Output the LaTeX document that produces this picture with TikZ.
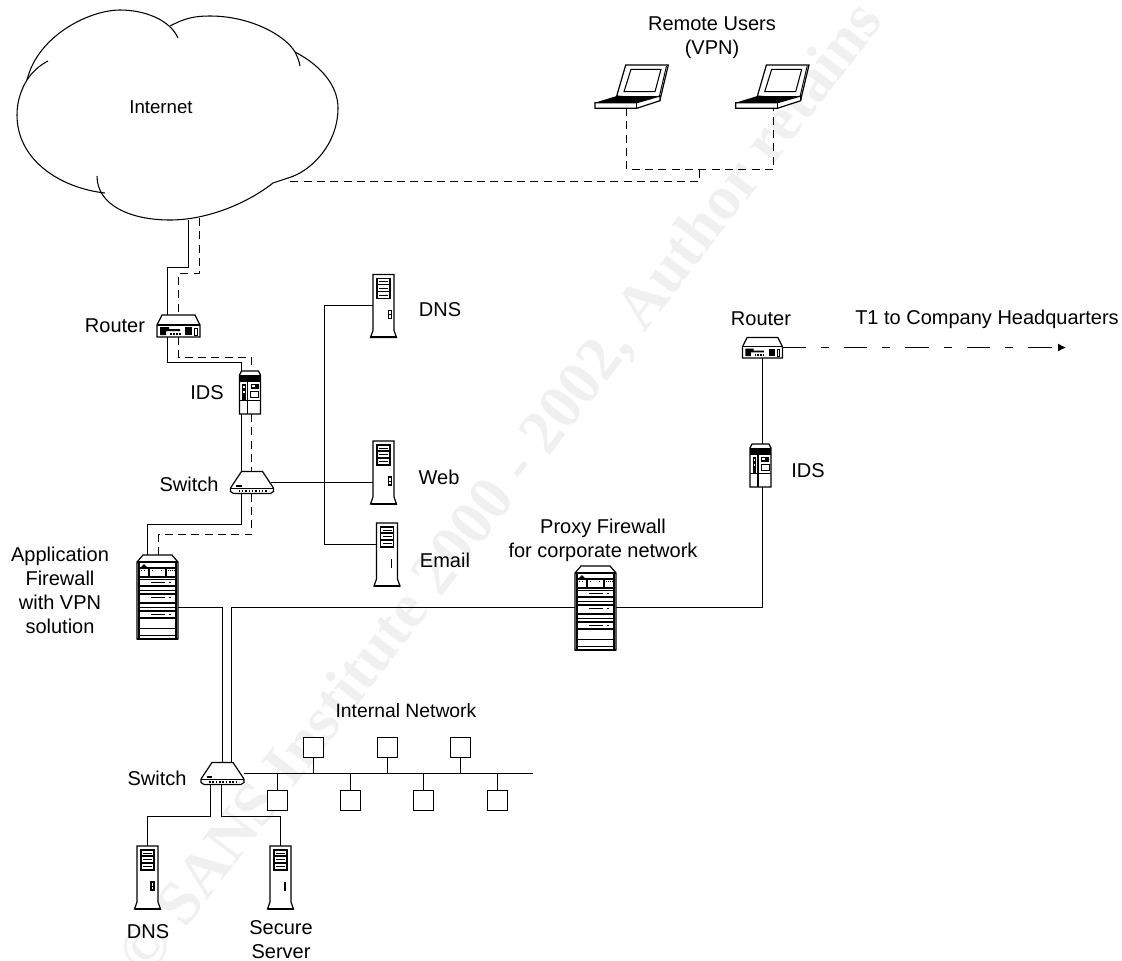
\documentclass[tikz,border=0pt]{standalone}
\usepackage{fontspec}
\setmainfont{Liberation Sans}
\newfontfamily\wmfont{Liberation Serif}
\usetikzlibrary{calc,arrows.meta}
\tikzset{
  dev/.style 2 args={rectangle,minimum width=#1*0.75pt,minimum height=#2*0.75pt,inner sep=0pt,outer sep=0pt},
  lbl/.style={inner sep=0pt,align=center,font=\fontsize{15}{18}\selectfont},
  cloudline/.style={line width=0.8pt},
  wire/.style={line width=0.75pt,line join=miter},
  dashwire/.style={line width=0.75pt,dash pattern=on 6pt off 4pt},
  t1wire/.style={line width=0.75pt,dash pattern=on 17.6pt off 11.25pt on 6pt off 11.25pt,-{Latex[length=6pt,width=6pt]}},
  outl/.style={line width=0.9pt,fill=white,line join=miter},
  routerpic/.pic={
    \draw[outl] (0,10)--(5,0)--(38,0)--(43,10)--(43,22)--(0,22)--cycle;
    \draw[line width=0.8pt] (0,10)--(43,10);
    \fill (3,12)--(12,12)--(12,14)--(23,14)--(23,16)--(9,16)--(9,20)--(3,20)--cycle;
    \fill (28,12) rectangle (35,20);
    \draw[line width=0.6pt] (37.5,13) rectangle (40,20);
    \foreach \u in {13,16,19,22}{\fill (\u,18) rectangle ++(1.5,1.5);}
  },
  idspic/.pic={
    \draw[outl] (0,4)--(2,0)--(19,0)--(21,4)--(21,43)--(0,43)--cycle;
    \fill (0,4) rectangle (21,11);
    \draw[line width=0.8pt] (8,11)--(8,43);
    \draw[line width=0.7pt] (0,29)--(8,29) (8,29)--(21,29);
    \fill (2.5,13) rectangle (6,29);
    \fill[white] (3.5,15) rectangle (5,17);
    \fill[white] (3.5,20) rectangle (5,21.5);
    \fill (11,13) rectangle (19,18);
    \fill[white] (12,14) rectangle (15,16);
    \draw[line width=0.7pt] (11,20) rectangle (19,26);
  },
  switchpic/.pic={
    \draw[outl] (11,0)--(32,0)--(42,15)--(43,17)--(43,20)--(40,22)--(3,22)--(0,20)--(0,17)--(1,15)--cycle;
    \draw[line width=0.7pt] (0,17)--(43,17);
    \fill (5.5,13) rectangle (11,15);
    \draw[line width=1.3pt,dash pattern=on 1.2pt off 1.3pt] (8,19.4)--(38,19.4);
  },
  rackpic/.pic={
    \draw[outl] (6,0)--(35,0)--(41,7)--(41,84)--(0,84)--(0,7)--cycle;
    \draw[line width=1.2pt] (0,7)--(41,7);
    \draw[line width=1.2pt] (0,84)--(41,84);
    \draw[line width=0.8pt] (2,7)--(2,84) (39,7)--(39,84);
    \fill (4,12)--(7,9)--(10,12)--cycle;
    \draw[line width=0.8pt] (2,13)--(39,13) (2,22)--(39,22) (12,13)--(12,22) (29,13)--(29,22);
    \foreach \u in {4,7,15,24,31,33,35,37}{\fill (\u,14.5) rectangle ++(1,1);}
    \foreach \u/\w in {24/0.7,31/1.3,35.7/0.7,39/1.3,47.7/1.3,52/0.7,56/1.3,63/1.3,73/0.7,80/0.7}{\draw[line width=\w pt] (2,\u)--(39,\u);}
    \foreach \u in {28,43,60}{\fill (14,\u-1.2) rectangle (28,\u-0.3);\fill (32,\u-1.4) rectangle (34,\u+0.2);}
  },
  towerbody/.pic={
    \draw[outl] (0,0)--(21,0)--(21,56)--(23.5,63)--(-2.5,63)--(0,56)--cycle;
    \draw[line width=1.2pt] (-2.5,62.7)--(23.5,62.7);
    \draw[line width=0.8pt] (4,4) rectangle (17,24);
    \draw[line width=1pt] (4,10)--(17,10) (4,17)--(17,17);
    \draw[line width=0.5pt] (6,7)--(15,7) (6,13.5)--(15,13.5) (6,20.5)--(15,20.5);
  },
  towerbtn/.pic={
    \pic {towerbody};
    \draw[line width=0.8pt] (14,36) rectangle (17,44);
    \draw[line width=0.5pt] (14,40)--(17,40);
  },
  towerbar/.pic={
    \pic {towerbody};
    \fill (14.2,36) rectangle (15.8,45);
  },
  laptoppic/.pic={
    \draw[outl] (26.7,36)--(35.7,5)--(78.3,5)--(70,40)--cycle;
    \draw[line width=0.7pt] (76.5,6)--(68.5,40);
    \draw[line width=0.8pt] (41,9.3)--(71,9.3)--(65,31.7)--(34,31.7)--cycle;
    \fill (26.7,36)--(5,42.7)--(46.7,42.7)--(68,36)--cycle;
    \draw[outl] (5,42.7)--(46.7,42.7)--(70,36)--(70,40.7)--(46.7,48.3)--(5,48.3)--cycle;
    \draw[line width=0.7pt] (46.7,42.7)--(46.7,48.3);
  }
}
\begin{document}
\begin{tikzpicture}[x=0.75pt,y=-0.75pt]
\useasboundingbox (0,0) rectangle (1122,961);

% watermark
\node[inner sep=0pt,anchor=base west,rotate=52.4,text=black!6,font=\wmfont\bfseries\fontsize{47}{47}\selectfont] (wm) at (147,979) {© SANS Institute 2000 - 2002, Author retains};

% cloud
\node[dev={320}{210}] (internet) at (177,115) {};
\draw[cloudline] (27,80) .. controls (38,35) and (90,10) .. (120,10) .. controls (145,10) and (170,20) .. (178,38);
\draw[cloudline] (170,26) .. controls (185,18) and (195,16) .. (210,16) .. controls (250,16) and (285,35) .. (295,52) .. controls (297,56) and (299,60) .. (300,66);
\draw[cloudline] (295,52) .. controls (320,65) and (338,85) .. (338,108) .. controls (338,145) and (310,172) .. (288,178);
\draw[cloudline] (288,178) .. controls (280,180) .. (273,183) .. controls (245,205) and (205,220) .. (170,220) .. controls (130,220) and (97,205) .. (97,176);
\draw[cloudline] (105,193) .. controls (60,188) and (17,160) .. (17,115) .. controls (17,100) and (22,88) .. (27,80) .. controls (32,72) and (40,65) .. (48,61);
\coordinate (cloudA) at (188.5,220);
\coordinate (cloudB) at (199.5,218);
\coordinate (cloudC) at (288,181.5);
\node[lbl,font=\fontsize{14}{18}\selectfont] (tInternet) at (161,107) {Internet};

% devices: named boxes
\node[dev={43}{22}] (router1) at (178.5,326) {};
\node[dev={21}{43}] (ids1) at (250,392.5) {};
\node[dev={43}{22}] (switch1) at (252,482.5) {};
\node[dev={41}{84}] (fw1) at (157.5,597) {};
\node[dev={43}{22}] (switch2) at (222.5,773.5) {};
\node[dev={23}{62}] (dns1) at (384.5,305.5) {};
\node[dev={23}{62}] (web) at (384.5,472) {};
\node[dev={21}{64}] (email) at (387,555) {};
\node[dev={21}{63}] (dns2) at (147.5,877.5) {};
\node[dev={21}{63}] (secure) at (280.5,877.5) {};
\node[dev={41}{84}] (fw2) at (595.5,607.5) {};
\node[dev={40}{20}] (router2) at (762.5,347.5) {};
\node[dev={21}{43}] (ids2) at (760.5,465.5) {};
\node[dev={60}{40}] (lap1) at (626.5,88) {};
\node[dev={60}{40}] (lap2) at (773.5,88) {};
\coordinate (busend) at (533,773.5);

% connectors
\draw[wire] (cloudA) -- (188.5,267.5) -- (167.5,267.5) -- ($(router1.north)+(-11,0)$);
\draw[dashwire] (cloudB) -- (199.5,273.5) -- (178.5,273.5) -- (router1.north);
\draw[wire] ($(router1.south)+(-11,0)$) -- (167.5,362.5) -- (241.5,362.5) -- ($(ids1.north)+(-8.5,0)$);
\draw[dashwire] (router1.south) -- (178.5,357.5) -- (251.5,357.5) -- ($(ids1.north)+(1.5,0)$);
\draw[wire] ($(ids1.south)+(-8.5,0)$) -- ($(switch1.north)+(-10.5,0)$);
\draw[dashwire] ($(ids1.south)+(1.5,0)$) -- ($(switch1.north)+(-0.5,0)$);
\draw[wire] ($(switch1.south)+(-10.5,0)$) -- (241.5,524.5) -- (147.5,524.5) -- ($(fw1.north)+(-10,0)$);
\draw[dashwire] ($(switch1.south)+(-0.5,0)$) -- (251.5,534.5) -- (158.5,534.5) -- ($(fw1.north)+(1,0)$);
\draw[wire] ($(switch1.east)+(-3,0)$) -- ($(web.west)+(0,10.5)$);
\draw[wire] (dns1.west) -- (324.5,305.5) -- (324.5,544.5) -- ($(email.west)+(0,-10.5)$);
\draw[wire] ($(fw1.east)+(0,10.5)$) -- (222.5,607.5) -- (switch2.north);
\draw[wire] (fw2.west) -- (231.5,607.5) -- ($(switch2.north)+(9,0)$);
\draw[wire] (fw2.east) -- (762.5,607.5) -- ($(ids2.south)+(2,0)$);
\draw[wire] ($(ids2.north)+(2,0)$) -- (router2.south);
\draw[t1wire] (router2.east) -- (1066,347.5);
\draw[wire] (switch2.east) -- (busend);
\draw[wire] ($(switch2.south)+(-12,0)$) -- (210.5,816.5) -- (147.5,816.5) -- (dns2.north);
\draw[wire] ($(switch2.south)+(-1,0)$) -- (221.5,816.5) -- (280.5,816.5) -- (secure.north);
\draw[dashwire] (lap1.south) -- (626.5,169.5) -- (773.5,169.5) -- (lap2.south);
\draw[dashwire] (699.5,169.5) -- (699.5,181.5) -- (cloudC);

% internal network stations
\foreach \n/\u in {a/313.5,b/387.5,c/460.5}{
  \node[draw,line width=0.8pt,fill=white,dev={20}{20}] (st\n) at (\u,747.5) {};
  \draw[wire] (st\n.south) -- (st\n.south |- busend);
}
\foreach \n/\u in {d/277.5,e/350.5,f/423.5,g/497.5}{
  \node[draw,line width=0.8pt,fill=white,dev={20}{20}] (st\n) at (\u,800.5) {};
  \draw[wire] (st\n.north) -- (st\n.north |- busend);
}

% icons
\pic at (157,315) {routerpic};
\pic at (239.5,371) {idspic};
\pic at (230.5,471.5) {switchpic};
\pic at (137,555) {rackpic};
\pic at (201,762.5) {switchpic};
\pic[xscale=1.1] at (373,274.5) {towerbtn};
\pic[xscale=1.1] at (373,441) {towerbtn};
\pic at (376.5,523) {towerbar};
\pic at (137,846) {towerbtn};
\pic at (270,846) {towerbar};
\pic at (575,566) {rackpic};
\pic[scale=0.93] at (742.5,337.5) {routerpic};
\pic at (750,444) {idspic};
\pic at (590,60) {laptoppic};
\pic at (730.7,60) {laptoppic};

% labels
\node[lbl] (tRemote) at (712,38) {Remote Users\\(VPN)};
\node[lbl] (tDns1) at (440,310) {DNS};
\node[lbl] (tWeb) at (439,477) {Web};
\node[lbl] (tEmail) at (445,560) {Email};
\node[lbl] (tRouter1) at (115,326) {Router};
\node[lbl] (tIds1) at (207,393) {IDS};
\node[lbl] (tSwitch1) at (189,484) {Switch};
\node[lbl] (tApp) at (60,590) {Application\\Firewall\\with VPN\\solution};
\node[lbl] (tProxy) at (603,540.5) {Proxy Firewall\\for corporate network};
\node[lbl] (tRouter2) at (761,319) {Router};
\node[lbl] (tT1) at (987,319) {T1 to Company Headquarters};
\node[lbl] (tIds2) at (808,471) {IDS};
\node[lbl,font=\fontsize{14.5}{18}\selectfont] (tInternal) at (406,711) {Internal Network};
\node[lbl] (tSwitch2) at (157,778) {Switch};
\node[lbl] (tDns2) at (148,932) {DNS};
\node[lbl] (tSecure) at (281,940) {Secure\\Server};
\end{tikzpicture}
\end{document}
